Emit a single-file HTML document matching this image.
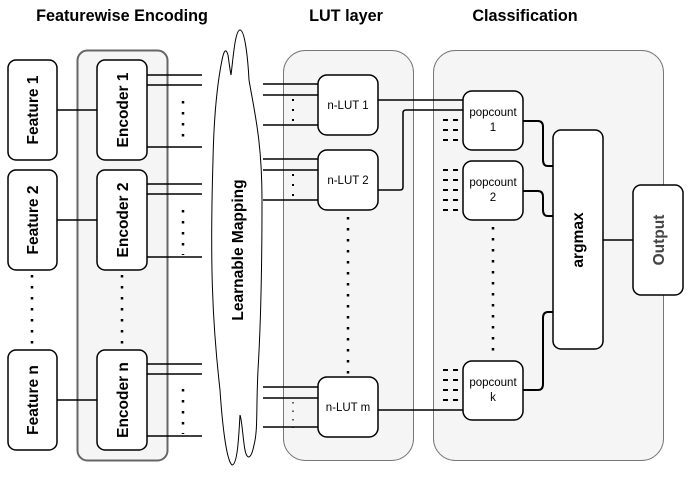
<!DOCTYPE html>
<html><head><meta charset="utf-8"><style>
html,body{margin:0;padding:0;background:#fff;}
svg{display:block;}
text{font-family:"Liberation Sans",Arial,sans-serif;fill:#000;}
</style></head><body>
<svg width="690" height="491" viewBox="0 0 690 491" xmlns="http://www.w3.org/2000/svg">
<!-- titles -->
<text x="122" y="21" font-size="16.2" font-weight="bold" text-anchor="middle">Featurewise Encoding</text>
<text x="346" y="21" font-size="16.2" font-weight="bold" text-anchor="middle">LUT layer</text>
<text x="525" y="21" font-size="16.2" font-weight="bold" text-anchor="middle">Classification</text>

<!-- containers -->
<rect x="77.5" y="50.5" width="90" height="410" rx="10" fill="#f5f5f5" stroke="#666" stroke-width="2"/>
<rect x="283.5" y="50.5" width="130" height="410" rx="22" fill="#f5f5f5" stroke="#777" stroke-width="1"/>
<rect x="433.5" y="50.5" width="230" height="410" rx="22" fill="#f5f5f5" stroke="#777" stroke-width="1"/>

<g stroke="#000" stroke-width="1.5">
<line x1="57" y1="110" x2="97" y2="110"/>
<line x1="57" y1="220" x2="97" y2="220"/>
<line x1="57" y1="400" x2="97" y2="400"/>
<line x1="147" y1="75" x2="202" y2="75"/><line x1="147" y1="85" x2="202" y2="85"/><line x1="147" y1="147" x2="202" y2="147"/>
<line x1="147" y1="184" x2="202" y2="184"/><line x1="147" y1="194" x2="202" y2="194"/><line x1="147" y1="257" x2="202" y2="257"/>
<line x1="147" y1="364" x2="202" y2="364"/><line x1="147" y1="374" x2="202" y2="374"/><line x1="147" y1="436" x2="202" y2="436"/>
<line x1="263" y1="84" x2="318" y2="84"/><line x1="263" y1="95" x2="318" y2="95"/><line x1="263" y1="125" x2="318" y2="125"/>
<line x1="263" y1="159" x2="318" y2="159"/><line x1="263" y1="170" x2="318" y2="170"/><line x1="263" y1="200" x2="318" y2="200"/>
<line x1="263" y1="387" x2="318" y2="387"/><line x1="263" y1="398" x2="318" y2="398"/><line x1="263" y1="427" x2="318" y2="427"/>
<line x1="378" y1="100" x2="463" y2="100"/>
<path d="M378 190 H400 Q403 190 403 187 V113 Q403 110 406 110 H463" fill="none"/>
<line x1="378" y1="410" x2="463" y2="410"/>
<path d="M523 121 H538 Q543 121 543 127 V160 Q543 166 548 166 H553" fill="none" stroke-width="2"/>
<path d="M523 191 H538 Q543 191 543 197 V210 Q543 216 548 216 H553" fill="none" stroke-width="2"/>
<path d="M523 390 H538 Q543 390 543 384 V318 Q543 312 548 312 H553" fill="none" stroke-width="2"/>
<line x1="603" y1="240" x2="633" y2="240"/>
</g>

<g stroke="#000" stroke-width="2.5" stroke-dasharray="2.5 8.5">
<line x1="32" y1="275" x2="32" y2="348"/>
<line x1="122" y1="275" x2="122" y2="348"/>
<line x1="183" y1="101" x2="183" y2="145"/>
<line x1="183" y1="210" x2="183" y2="255"/>
<line x1="183" y1="389" x2="183" y2="434"/>
<line x1="348" y1="217" x2="348" y2="375"/>
<line x1="493" y1="227" x2="493" y2="358"/>
</g>
<g stroke="#000" stroke-width="2" stroke-dasharray="2 8">
<line x1="293" y1="99" x2="293" y2="126"/>
<line x1="293" y1="174" x2="293" y2="201"/>
</g>
<g stroke="#000" stroke-width="1.2" stroke-dasharray="1.5 7">
<line x1="293" y1="402" x2="293" y2="428"/>
</g>
<g stroke="#000" stroke-width="2">
<path d="M443 120h5M453 120h5M443 130h5M453 130h5M443 140h5M453 140h5"/>
<path d="M443 170h5M453 170h5M443 180h5M453 180h5M443 190h5M453 190h5M443 200h5M453 200h5M443 210h5M453 210h5"/>
<path d="M443 370h5M453 370h5M443 380h5M453 380h5M443 390h5M453 390h5M443 400h5M453 400h5"/>
</g>

<!-- cloud -->
<path d="M240 30 C245 30 248 60 249 80 C254 110 262 140 262 200 C262 260 261 320 258 370 C256 410 258 430 254 445 C251 460 247 460 245 450 C243 440 242 420 240 415 C239 430 238 465 232 465 C226 460 222 420 220 390 C212 320 210 260 213 160 C214 110 218 80 222 60 C224 50 226 48 228 55 C229 62 230 70 231 75 C233 60 235 30 240 30 Z" fill="#fff" stroke="#000" stroke-width="1"/>
<text transform="translate(243,250) rotate(-90)" font-size="15.5" font-weight="bold" text-anchor="middle">Learnable Mapping</text>

<g fill="#fff" stroke="#000" stroke-width="1.5">
<rect x="8" y="60" width="49" height="100" rx="8"/>
<rect x="8" y="170" width="49" height="100" rx="8"/>
<rect x="8" y="350" width="49" height="100" rx="8"/>
<rect x="97" y="60" width="50" height="100" rx="8"/>
<rect x="97" y="170" width="50" height="100" rx="8"/>
<rect x="97" y="350" width="50" height="100" rx="8"/>
<rect x="318" y="75" width="60" height="60" rx="9"/>
<rect x="318" y="150" width="60" height="60" rx="9"/>
<rect x="318" y="377" width="60" height="60" rx="9"/>
<rect x="463" y="91" width="60" height="59" rx="9"/>
<rect x="463" y="161" width="60" height="59" rx="9"/>
<rect x="463" y="361" width="60" height="59" rx="9"/>
<rect x="553" y="130" width="50" height="219" rx="8"/>
<rect x="633" y="185" width="50" height="110" rx="8"/>
</g>
<g font-size="15.5" font-weight="bold" text-anchor="middle">
<text transform="translate(38,110) rotate(-90)">Feature 1</text>
<text transform="translate(38,220) rotate(-90)">Feature 2</text>
<text transform="translate(38,400) rotate(-90)">Feature n</text>
<text transform="translate(128,110) rotate(-90)">Encoder 1</text>
<text transform="translate(128,220) rotate(-90)">Encoder 2</text>
<text transform="translate(128,400) rotate(-90)">Encoder n</text>
<text transform="translate(583,240) rotate(-90)">argmax</text>
<text transform="translate(664,240) rotate(-90)" style="fill:#444">Output</text>
</g>
<g font-size="11.5" text-anchor="middle">
<text x="348" y="109">n-LUT 1</text>
<text x="348" y="184">n-LUT 2</text>
<text x="348" y="411">n-LUT m</text>
<text x="493" y="116">popcount</text><text x="493" y="131">1</text>
<text x="493" y="186">popcount</text><text x="493" y="201">2</text>
<text x="493" y="386">popcount</text><text x="493" y="401">k</text>
</g>
</svg>
</body></html>
